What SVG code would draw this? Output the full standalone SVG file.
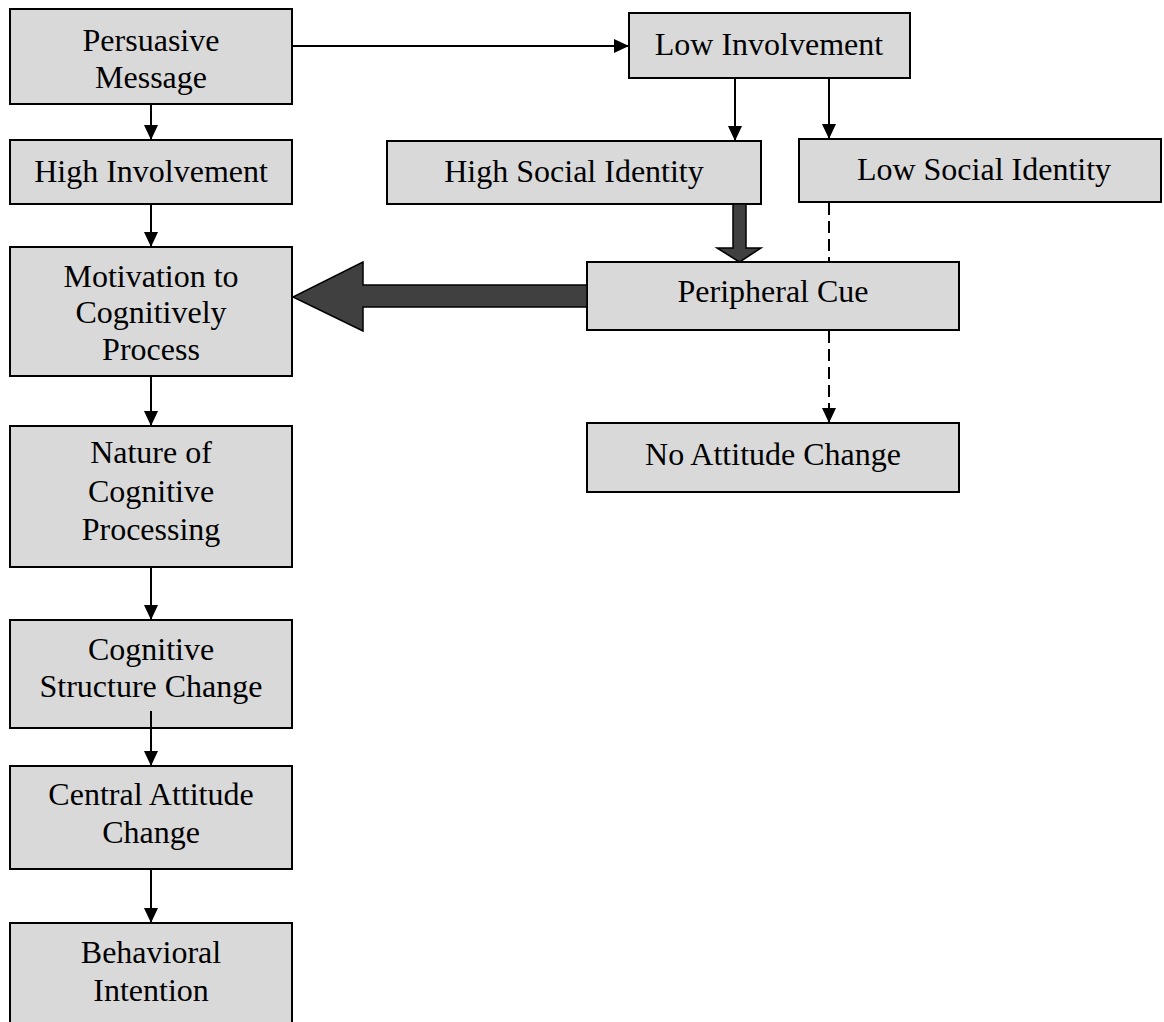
<svg xmlns="http://www.w3.org/2000/svg" width="1164" height="1022" viewBox="0 0 1164 1022">
<style>
.box{fill:#d9d9d9;stroke:#000;stroke-width:2}
.t{font-family:"Liberation Serif","Times New Roman",serif;font-size:32px;fill:#000;text-anchor:middle}
.ln{stroke:#000;stroke-width:2;fill:none}
.dash{stroke-dasharray:12 6}
.blk{fill:#404040;stroke:#000;stroke-width:1.5}
</style>
<defs>
<marker id="ah" markerUnits="userSpaceOnUse" markerWidth="16" markerHeight="16" viewBox="0 0 16 16" refX="15" refY="8" orient="auto">
<path d="M0,1 L15,8 L0,15 Z" fill="#000"/>
</marker>
</defs>
<rect width="1164" height="1022" fill="#fff"/>
<g id="nodes">
<g id="persuasive-message"><rect class="box" x="10" y="9" width="282" height="95"/><text class="t" x="151" y="51">Persuasive</text><text class="t" x="151" y="88">Message</text></g>
<g id="high-involvement"><rect class="box" x="10" y="140" width="282" height="64"/><text class="t" x="151" y="182">High Involvement</text></g>
<g id="motivation"><rect class="box" x="10" y="247" width="282" height="129"/><text class="t" x="151" y="287">Motivation to</text><text class="t" x="151" y="323">Cognitively</text><text class="t" x="151" y="360">Process</text></g>
<g id="nature"><rect class="box" x="10" y="426" width="282" height="141"/><text class="t" x="151" y="463">Nature of</text><text class="t" x="151" y="502">Cognitive</text><text class="t" x="151" y="540">Processing</text></g>
<g id="structure-change"><rect class="box" x="10" y="620" width="282" height="108"/><text class="t" x="151" y="660">Cognitive</text><text class="t" x="151" y="697">Structure Change</text></g>
<g id="central-attitude"><rect class="box" x="10" y="766" width="282" height="103"/><text class="t" x="151" y="805">Central Attitude</text><text class="t" x="151" y="843">Change</text></g>
<g id="behavioral-intention"><rect class="box" x="10" y="923" width="282" height="110"/><text class="t" x="151" y="963">Behavioral</text><text class="t" x="151" y="1001">Intention</text></g>
<g id="low-involvement"><rect class="box" x="629" y="13" width="281" height="65"/><text class="t" x="769" y="55">Low Involvement</text></g>
<g id="high-social-identity"><rect class="box" x="387" y="141" width="374" height="63"/><text class="t" x="574" y="182">High Social Identity</text></g>
<g id="low-social-identity"><rect class="box" x="799" y="139" width="362" height="63"/><text class="t" x="984" y="180">Low Social Identity</text></g>
<g id="peripheral-cue"><rect class="box" x="587" y="262" width="372" height="68"/><text class="t" x="773" y="302">Peripheral Cue</text></g>
<g id="no-attitude-change"><rect class="box" x="587" y="423" width="372" height="69"/><text class="t" x="773" y="465">No Attitude Change</text></g>
</g>
<g id="connectors">
<line class="ln" x1="292" y1="46" x2="629" y2="46" marker-end="url(#ah)"/>
<line class="ln" x1="151" y1="104" x2="151" y2="140" marker-end="url(#ah)"/>
<line class="ln" x1="151" y1="204" x2="151" y2="247" marker-end="url(#ah)"/>
<line class="ln" x1="151" y1="376" x2="151" y2="426" marker-end="url(#ah)"/>
<line class="ln" x1="151" y1="567" x2="151" y2="620" marker-end="url(#ah)"/>
<line class="ln" x1="151" y1="711" x2="151" y2="766" marker-end="url(#ah)"/>
<line class="ln" x1="151" y1="869" x2="151" y2="923" marker-end="url(#ah)"/>
<line class="ln" x1="735" y1="78" x2="735" y2="141" marker-end="url(#ah)"/>
<line class="ln" x1="829" y1="78" x2="829" y2="139" marker-end="url(#ah)"/>
<line class="ln dash" x1="829" y1="203" x2="829" y2="261"/>
<line class="ln dash" x1="829" y1="331" x2="829" y2="423" marker-end="url(#ah)"/>
<polygon class="blk" points="733,204 746,204 746,248 761,248 739.5,262 717,248 733,248"/>
<polygon class="blk" points="587,285 363,285 363,262 293,297 363,331 363,307 587,307"/>
</g>
</svg>
